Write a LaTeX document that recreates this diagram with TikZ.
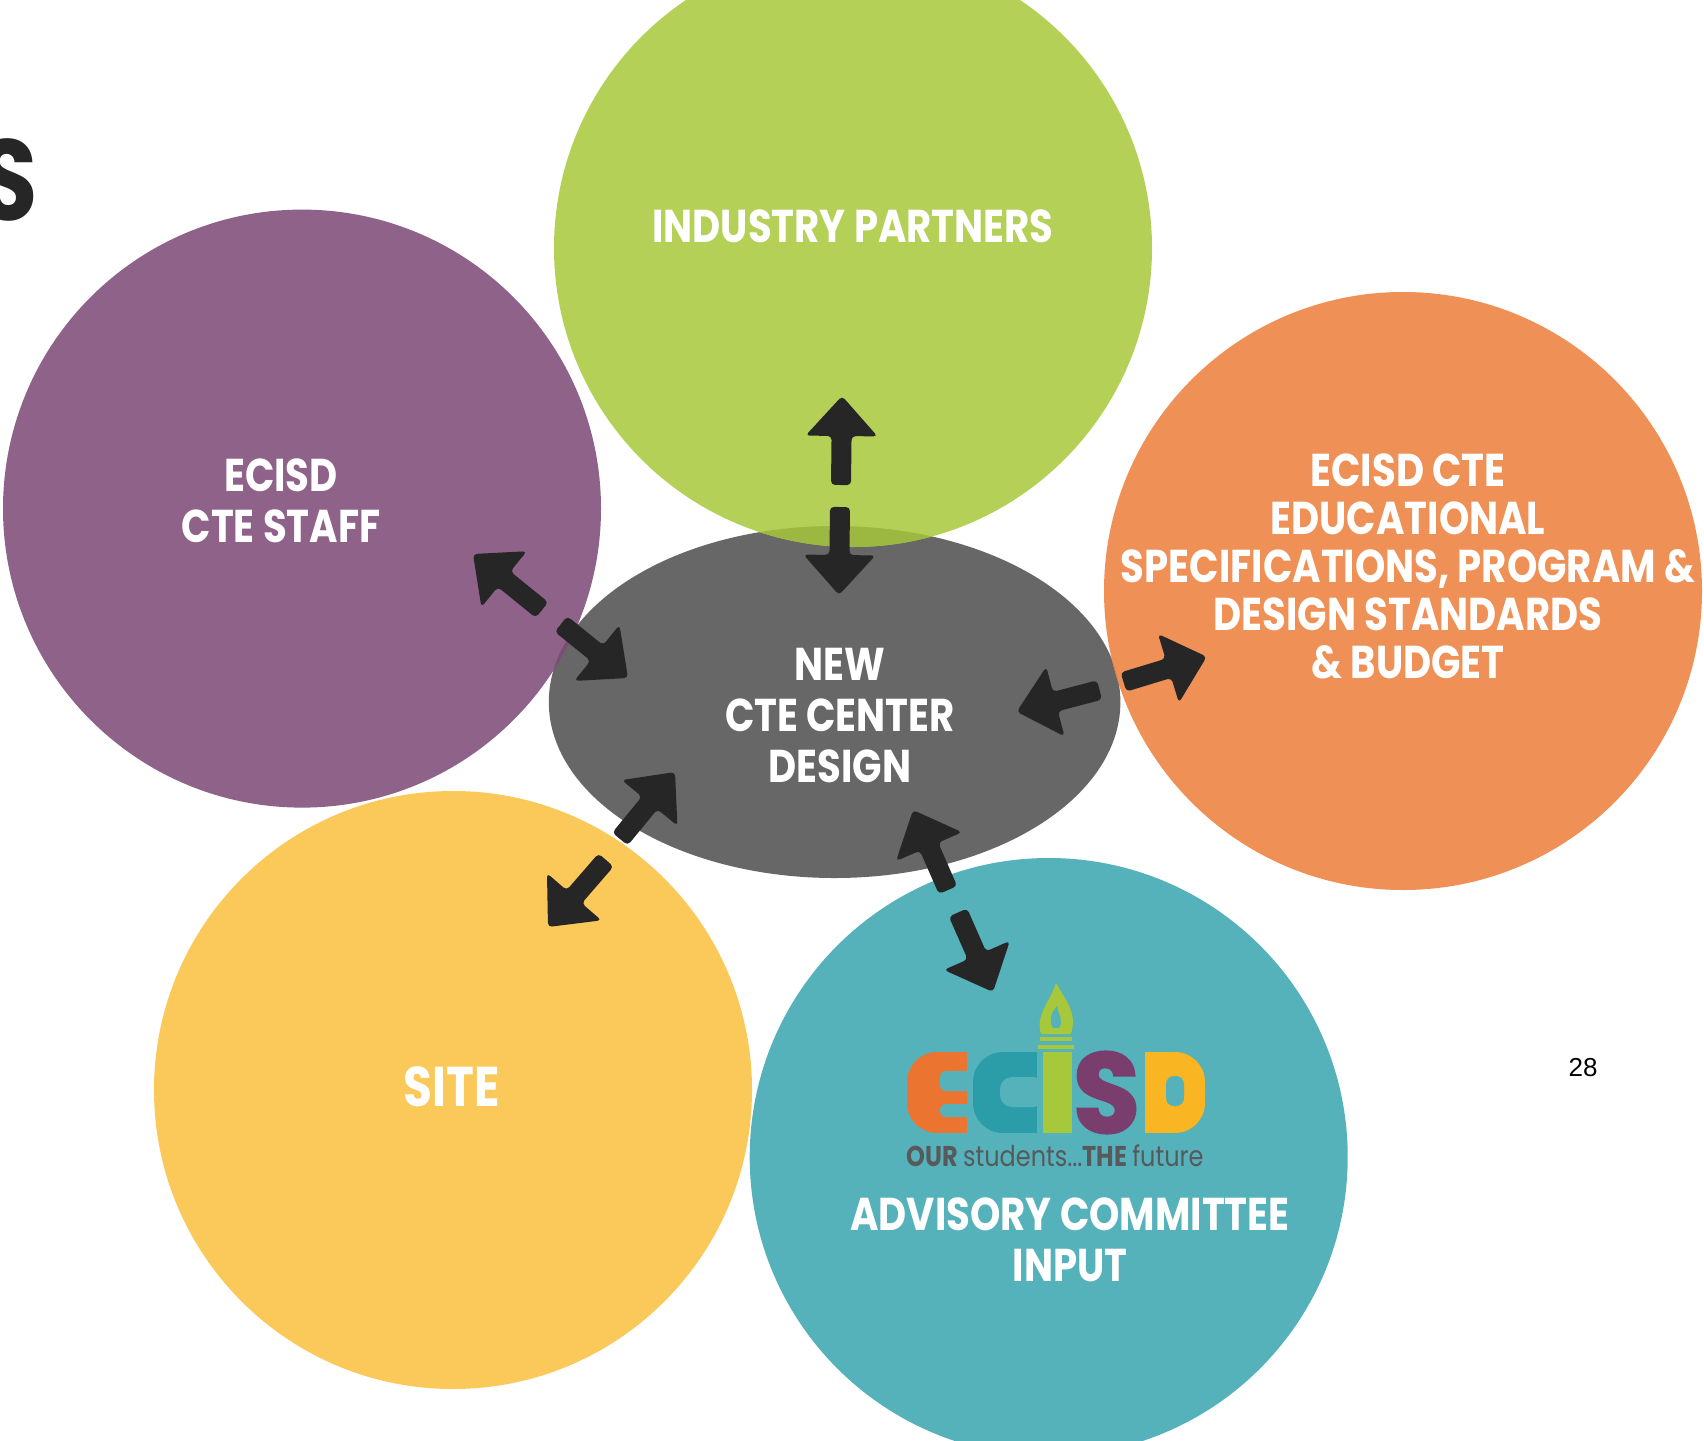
\documentclass[tikz,border=0pt]{standalone}
\usepackage{fontspec}
\setmainfont{Poppins}[FakeStretch=0.84]
\newfontfamily\logofont{Poppins}[FakeBold=2]
\newfontfamily\pagefont{Liberation Sans}
\usetikzlibrary{calc,shapes.geometric}
\definecolor{cgreen}{RGB}{180,208,86}
\definecolor{cgreendk}{RGB}{157,184,64}
\definecolor{cpurple}{RGB}{143,98,137}
\definecolor{cpurpledk}{RGB}{122,78,116}
\definecolor{corange}{RGB}{239,145,86}
\definecolor{corangedk}{RGB}{222,127,74}
\definecolor{cyellow}{RGB}{251,200,90}
\definecolor{cteal}{RGB}{85,177,186}
\definecolor{cgray}{RGB}{103,103,103}
\definecolor{arrowc}{RGB}{38,38,38}
\definecolor{lE}{RGB}{235,117,48}
\definecolor{lC}{RGB}{42,157,169}
\definecolor{lI}{RGB}{167,200,58}
\definecolor{lS}{RGB}{122,62,110}
\definecolor{lD}{RGB}{250,181,35}
\definecolor{ltag}{RGB}{88,89,91}
\newcommand{\blockarrow}[2]{%
  \coordinate (ba-n) at ($(#2)!40pt!(#1)$);
  \fill[arrowc, rounded corners=4pt]
    ($(#1)!10pt!90:(#2)$) -- ($(ba-n)!10pt!-90:(#1)$) -- ($(ba-n)!36pt!-90:(#1)$)
    -- (#2) -- ($(ba-n)!36pt!90:(#1)$) -- ($(ba-n)!10pt!90:(#1)$)
    -- ($(#1)!10pt!-90:(#2)$) -- cycle;
}
\tikzset{
  bubble/.style={circle, minimum size=598pt, inner sep=0pt, draw=none},
  lbl/.style={text=white, font=\bfseries\fontsize{46}{51}\selectfont, align=center, inner sep=0pt},
}
\begin{document}
\begin{tikzpicture}[x=1pt, y=-1pt]
\useasboundingbox (0,0) rectangle (1704,1440);
\fill[white] (0,0) rectangle (1704,1440);
\clip (0,0) rectangle (1704,1440);

% title remnant
\node[anchor=east, inner sep=0pt, text=arrowc, font=\bfseries\fontsize{115}{115}\selectfont] (titleS) at (38,180) {S};

% center ellipse
\node[ellipse, minimum width=571.6pt, minimum height=352pt, inner sep=0pt, fill=cgray] (center) at (834.6,702) {};

% outer circles
\node[bubble, fill=cgreen] (green) at (853,248) {};
\node[bubble, fill=cpurple] (purple) at (302,508.6) {};
\node[bubble, fill=corange] (orange) at (1403,591) {};
\node[bubble, fill=cyellow] (yellow) at (453,1090) {};
\node[bubble, fill=cteal] (teal) at (1048.7,1157) {};

% overlaps
\begin{scope}
  \clip (834.6,702) ellipse [x radius=285.8pt, y radius=176pt];
  \fill[cgreendk] (853,248) circle [radius=299pt];
  \fill[cpurpledk] (302,508.6) circle [radius=299pt];
  \fill[corangedk] (1403,591) circle [radius=299pt];
\end{scope}

% labels
\node[lbl] (tInd) at (853,226) {INDUSTRY PARTNERS};
\node[lbl] (tStaff) at (281,501) {ECISD\\CTE STAFF};
\node[lbl, font=\bfseries\fontsize{46}{48}\selectfont] (tSpec) at (1408,566) {ECISD CTE\\EDUCATIONAL\\SPECIFICATIONS, PROGRAM \&\\DESIGN STANDARDS\\\& BUDGET};
\node[lbl] (tCenter) at (840,716) {NEW\\CTE CENTER\\DESIGN};
\node[lbl, font=\bfseries\fontsize{56}{60}\selectfont] (tSite) at (452,1087) {SITE};
\node[lbl] (tAdv) at (1070,1240) {ADVISORY COMMITTEE\\INPUT};
\node[font=\pagefont\fontsize{26}{26}\selectfont, inner sep=0pt] (page) at (1583,1068) {28};

% logo
\fill[lE, rounded corners=30pt] (907,1052) rectangle (967,1133);
\fill[lE] (937,1052) rectangle (967,1133);
\fill[cteal, rounded corners=6pt] (940,1071) rectangle (975,1091);
\fill[cteal, rounded corners=6pt] (940,1104) rectangle (975,1117);
\fill[lC, rounded corners=30pt] (973,1052) rectangle (1037,1133);
\fill[lC] (1005,1052) rectangle (1037,1133);
\fill[cteal, rounded corners=12pt] (1000,1077) rectangle (1045,1107);
\fill[lI] (1043,1052) rectangle (1072,1133);
\fill[lI] (1040,1037) rectangle (1072,1041);
\fill[lI] (1038,1045) rectangle (1074,1049);
\fill[lI] (1041,1034) .. controls (1035,1015) and (1050,1002) .. (1056,983)
  .. controls (1064,998) and (1078,1012) .. (1071,1034) -- cycle;
\fill[cteal] (1053,1028) .. controls (1048,1020) and (1052,1012) .. (1057,1006)
  .. controls (1058,1014) and (1064,1020) .. (1059,1028) -- cycle;
\node[inner sep=0pt, text=lS] (logoS) at (1106.5,1092.5) {\resizebox{67pt}{81pt}{\logofont\bfseries S}};
\fill[lD, rounded corners=30pt] (1145,1052) rectangle (1205,1133);
\fill[lD] (1145,1052) rectangle (1175,1133);
\fill[cteal, rounded corners=8pt] (1166,1076) rectangle (1184,1106);
\node[inner sep=0pt, text=ltag] (tag) at (1055,1156) {\resizebox{297pt}{!}{\bfseries OUR \mdseries students...\bfseries THE \mdseries future}};

% arrow end points
\coordinate (gOutT) at (841,485);   \coordinate (gOutH) at (842,396);
\coordinate (gInT) at (840,507);    \coordinate (gInH) at (839,595);
\coordinate (pOutT) at (542,610);   \coordinate (pOutH) at (473,554);
\coordinate (pInT) at (561,624);    \coordinate (pInH) at (628,678);
\coordinate (oInT) at (1099.5,690); \coordinate (oInH) at (1016.7,711.7);
\coordinate (oOutT) at (1123.5,682);\coordinate (oOutH) at (1206.7,656.7);
\coordinate (yOutT) at (606,860);   \coordinate (yOutH) at (548,927);
\coordinate (yInT) at (620,839);    \coordinate (yInH) at (675,772);
\coordinate (tInT) at (948,890);    \coordinate (tInH) at (913,810);
\coordinate (tOutT) at (958,912.5); \coordinate (tOutH) at (993,992);

\blockarrow{gOutT}{gOutH}
\blockarrow{gInT}{gInH}
\blockarrow{pOutT}{pOutH}
\blockarrow{pInT}{pInH}
\blockarrow{oInT}{oInH}
\blockarrow{oOutT}{oOutH}
\blockarrow{yOutT}{yOutH}
\blockarrow{yInT}{yInH}
\blockarrow{tInT}{tInH}
\blockarrow{tOutT}{tOutH}
\end{tikzpicture}
\end{document}
